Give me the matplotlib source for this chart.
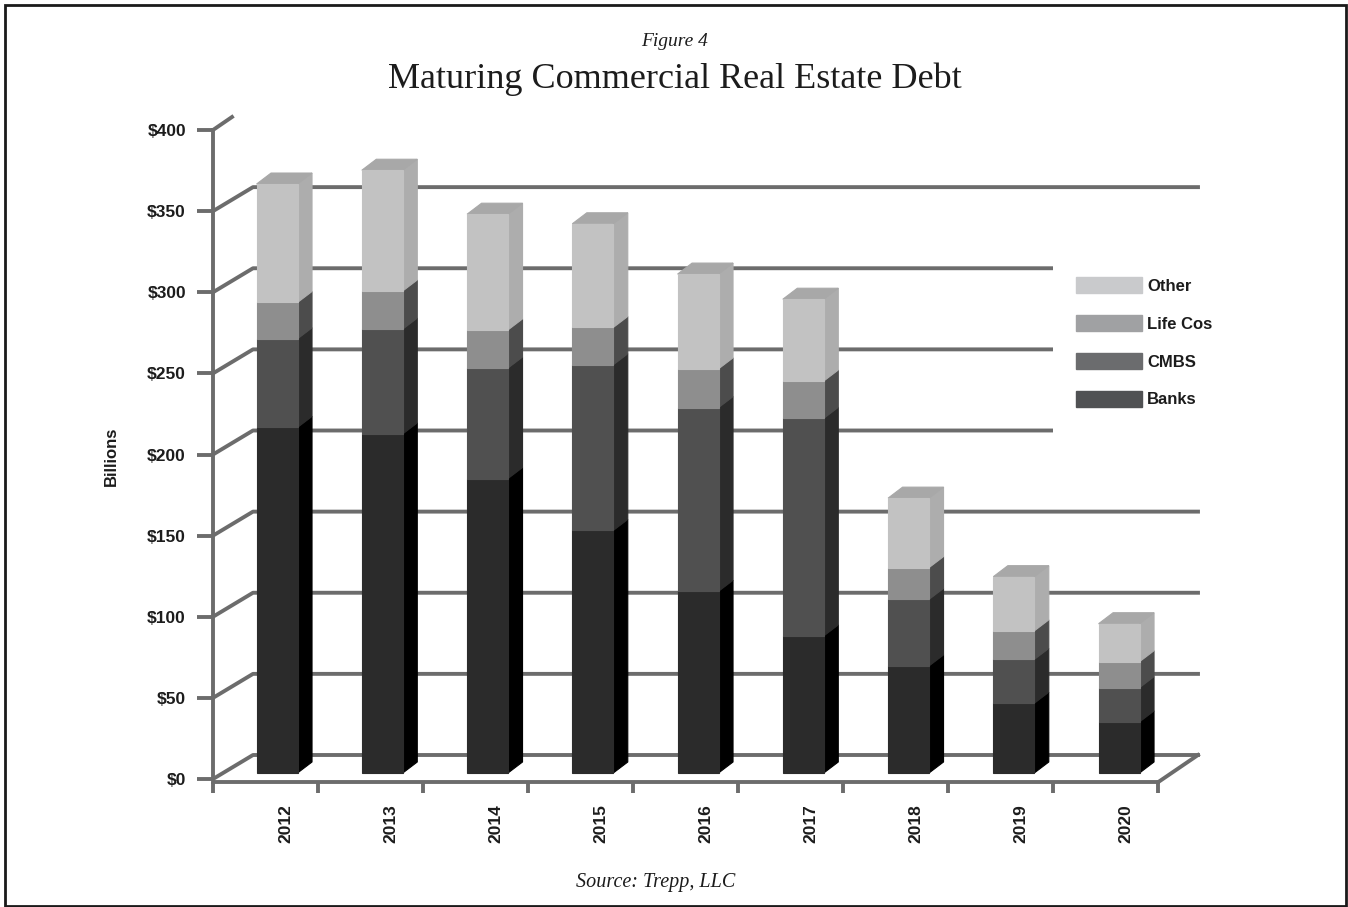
import numpy as np
import matplotlib
matplotlib.use('Agg')
import matplotlib.pyplot as plt
from matplotlib.patches import Patch, Rectangle

years = ['2012', '2013', '2014', '2015', '2016', '2017', '2018', '2019', '2020']
banks = [213, 209, 181.5, 149.5, 112, 84.5, 66, 43, 31.5]
cmbs = [54.6, 64.6, 68.1, 102.1, 113.2, 134.1, 41, 27, 21.1]
life = [22.4, 23.5, 23.5, 23, 23.9, 23, 19.6, 17.6, 16]
other = [73, 74.4, 71.3, 63.9, 58.4, 50.4, 42.8, 33.4, 23.4]
yticks = [0, 50, 100, 150, 200, 250, 300, 350, 400]

names = ['Banks', 'CMBS', 'Life Cos', 'Other']
front = ['#2b2b2b', '#505050', '#8e8e8e', '#c2c2c2']
side = ['#000000', '#2b2b2b', '#4c4c4c', '#adadad']
top_col = '#a8a8a8'
legend_col = ['#505153', '#6b6c6e', '#a0a1a3', '#c9cacc']
line_col = '#6c6c6c'

sans = ['Liberation Sans', 'DejaVu Sans']
serif = ['Liberation Serif', 'DejaVu Serif']
txt = '#1c1c1c'

fig = plt.figure(figsize=(13.48, 9.07), dpi=100)
W, H = 1348.0, 907.0
# plot box in pixels: x 213-1158, y 130-779
ax = fig.add_axes([213 / W, 1 - 779 / H, 945 / W, 649 / H])
ax.set_xlim(-0.5, 8.5)
ax.set_ylim(0, 400)
ax.patch.set_visible(False)

# 3d offsets, axis units
back_dx = 40 / 105.0
back_dy = 24 / 1.6225
bar_dx = 14.5 / 105.0
bar_dy = 11 / 1.6225
bar_x = 0.11
bar_w = 0.39
floor = 3.7
lw = 2.8

# back wall lines
for v in yticks:
    if v == 400:
        ax.plot([-0.5, -0.5 + 19 / 105.0], [v, v + 13 / 1.6225], color=line_col, lw=lw, clip_on=False, zorder=1)
        continue
    ax.plot([-0.5, -0.5 + back_dx, 8.5 + back_dx], [v, v + back_dy, v + back_dy],
            color=line_col, lw=lw, clip_on=False, zorder=1, solid_joinstyle='round')
# right edge of the floor
ax.plot([8.5, 8.5 + back_dx], [-2, back_dy], color=line_col, lw=lw, clip_on=False, zorder=1)

# white box behind the legend hides the wall lines
ax.add_patch(Rectangle(((1053 - 213) / 945.0, (779 - 436) / 649.0), 177 / 945.0, 186 / 649.0, transform=ax.transAxes,
                       facecolor='white', edgecolor='none', clip_on=False, zorder=1.5))

# stacked bars
x = np.arange(len(years)) * 1.0024 + bar_x
bottom = np.full(len(years), floor)
z = 3
for vals, fc, sc in zip([banks, cmbs, life, other], front, side):
    vals = np.array(vals)
    ax.bar(x, vals, width=bar_w, bottom=bottom, color=fc, edgecolor=fc, lw=0.8, zorder=z + 1)
    for xi, b, v in zip(x, bottom, vals):
        r = xi + bar_w / 2
        ax.fill([r, r + bar_dx, r + bar_dx, r], [b, b + bar_dy, b + v + bar_dy, b + v],
                color=sc, lw=0.8, zorder=z)
    bottom = bottom + vals
for xi, t in zip(x, bottom):
    l, r = xi - bar_w / 2, xi + bar_w / 2
    ax.fill([l, l + bar_dx, r + bar_dx, r], [t, t + bar_dy, t + bar_dy, t], color=top_col, lw=0.8, zorder=z)

# axes, ticks
for s in ['top', 'right']:
    ax.spines[s].set_visible(False)
for s in ['left', 'bottom']:
    ax.spines[s].set_color(line_col)
    ax.spines[s].set_linewidth(lw)
ax.spines['bottom'].set_position(('outward', 2.2))
ax.set_yticks(yticks)
ax.set_yticklabels(['$%d' % v for v in yticks], family=sans, weight='bold', fontsize=12.5, color=txt)
ax.tick_params(axis='y', length=11.5, width=lw, color=line_col, pad=8)
ax.set_xticks(np.arange(-0.5, 9))
ax.set_xticklabels([])
ax.tick_params(axis='x', which='major', length=8, width=lw, color=line_col)
ax.set_xticks(np.arange(len(years)) + 0.19, minor=True)
ax.set_xticklabels(years, minor=True, rotation=90, family=sans, weight='bold', fontsize=12.5, color=txt)
ax.tick_params(axis='x', which='minor', length=0, pad=16)
ax.set_ylabel('Billions', family=sans, weight='bold', fontsize=12, color=txt)
ax.yaxis.set_label_coords(-0.1, 0.497)

# legend
handles = [Patch(color=c, label=n) for c, n in zip(legend_col, names)][::-1]
leg = ax.legend(handles=handles, loc='upper left', bbox_to_anchor=((1076 - 213) / 945.0, (779 - 277) / 649.0),
                borderaxespad=0, frameon=False, prop={'family': sans, 'weight': 'bold', 'size': 12},
                handlelength=3.96, handleheight=1.14, labelspacing=1.26, handletextpad=0.3, borderpad=0)
leg.set_zorder(2)
for t in leg.get_texts():
    t.set_color(txt)

# titles
fig.text(675 / W, 1 - 41 / H, 'Figure 4', family=serif, style='italic', fontsize=14, ha='center', va='center', color=txt)
fig.text(675 / W, 1 - 79 / H, 'Maturing Commercial Real Estate Debt', family=serif, fontsize=26, ha='center', va='center', color=txt)
fig.text(656 / W, 1 - 882 / H, 'Source: Trepp, LLC', family=serif, style='italic', fontsize=14.5, ha='center', va='center', color=txt)

# frame round the figure
fig.add_artist(Rectangle((4.7 / W, 1 - 906 / H), 1340.8 / W, 901 / H, transform=fig.transFigure, fill=False, edgecolor='#1a1a1a', lw=2.0))

fig.savefig('out.png', dpi=100)
